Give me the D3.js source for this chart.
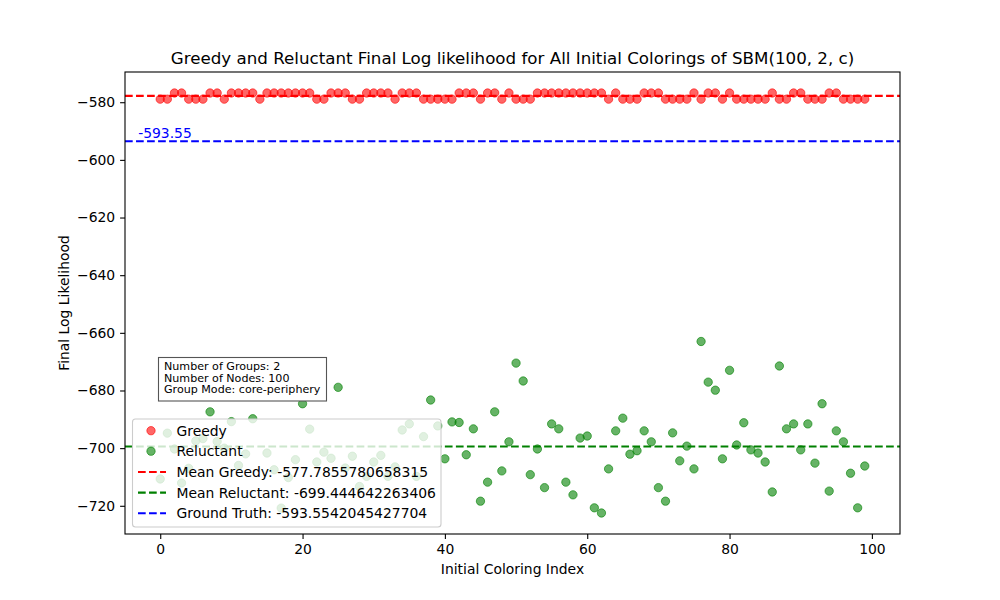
<!DOCTYPE html>
<html>
<head>
<meta charset="utf-8">
<script src="https://cdn.jsdelivr.net/npm/d3@7"></script>
<style>
  html, body { margin: 0; padding: 0; background: #fff; }
  svg { display: block; font-family: "DejaVu Sans", sans-serif; }
</style>
</head>
<body>
<svg id="chart" width="1000" height="600"></svg>
<script>
// ---------- data ----------
const greedyValues = [
  -578.94,-578.94,-576.8,-576.8,-578.94,-578.94,-578.94,-576.8,-576.8,-578.94,
  -576.8,-576.8,-576.8,-576.8,-578.94,-576.8,-576.8,-576.8,-576.8,-576.8,
  -576.8,-576.8,-578.94,-578.94,-576.8,-576.8,-576.8,-578.94,-578.94,-576.8,
  -576.8,-576.8,-576.8,-578.94,-576.8,-576.8,-576.8,-578.94,-578.94,-578.94,
  -578.94,-578.94,-576.8,-576.8,-576.8,-578.94,-576.8,-576.8,-578.94,-576.8,
  -578.94,-578.94,-578.94,-576.8,-576.8,-576.8,-576.8,-576.8,-576.8,-576.8,
  -576.8,-576.8,-576.8,-578.94,-576.8,-578.94,-578.94,-578.94,-576.8,-576.8,
  -576.8,-578.94,-578.94,-578.94,-578.94,-576.8,-578.94,-576.8,-576.8,-578.94,
  -576.8,-578.94,-578.94,-578.94,-578.94,-578.94,-576.8,-578.94,-578.94,-576.8,
  -576.8,-578.94,-578.94,-578.94,-576.8,-576.8,-578.94,-578.94,-578.94,-578.94
];
const reluctantValues = [
  -710.7,-694.8,-700.3,-712.1,-707.0,-697.5,-696.7,-687.4,-697.7,-700.0,
  -690.8,-706.0,-702.0,-689.8,-681.3,-701.7,-707.5,-720.8,-710.2,-704.0,
  -684.6,-693.4,-704.8,-701.4,-703.5,-678.9,-706.9,-702.8,-713.3,-709.8,
  -704.8,-702.5,-709.8,-706.5,-693.7,-691.6,-709.8,-696.0,-683.3,-692.3,
  -703.7,-690.9,-691.1,-702.3,-693.3,-718.4,-711.8,-687.4,-707.9,-697.8,
  -670.5,-676.7,-709.2,-700.3,-713.7,-691.6,-693.3,-711.8,-716.2,-696.5,
  -695.8,-720.7,-722.5,-707.2,-694.0,-689.6,-702.1,-700.9,-694.0,-697.8,
  -713.7,-718.4,-694.7,-704.4,-699.3,-707.2,-663.0,-677.1,-679.9,-703.7,
  -673.0,-698.9,-691.2,-700.6,-701.7,-704.8,-715.2,-671.5,-693.3,-691.6,
  -700.6,-691.6,-705.2,-684.6,-714.9,-694.0,-697.8,-708.7,-720.7,-706.2
];
const meanGreedy = -577.7855780658315;
const meanReluctant = -699.444642263406;
const groundTruth = -593.5542045427704;
const groundTruthLabel = "-593.55";
const xTicks = [0, 20, 40, 60, 80, 100];
const yTicks = [-720, -700, -680, -660, -640, -620, -600, -580];
const titleText = "Greedy and Reluctant Final Log likelihood for All Initial Colorings of SBM(100, 2, c)";
const xLabel = "Initial Coloring Index";
const yLabel = "Final Log Likelihood";
const infoLines = ["Number of Groups: 2", "Number of Nodes: 100", "Group Mode: core-periphery"];
const legendLabels = ["Greedy", "Reluctant",
  "Mean Greedy: -577.7855780658315",
  "Mean Reluctant: -699.444642263406",
  "Ground Truth: -593.5542045427704"];

// ---------- layout ----------
const svg = d3.select("#chart");
const L = 125, R = 900, T = 72, B = 534;
const n = greedyValues.length;
const xMinD = 0, xMaxD = n - 1;
const xPad = (xMaxD - xMinD) * 0.05;
const allVals = greedyValues.concat(reluctantValues);
const yMinD = d3.min(allVals), yMaxD = d3.max(allVals);
const yPad = (yMaxD - yMinD) * 0.05;

const x = d3.scaleLinear().domain([xMinD - xPad, xMaxD + xPad]).range([L, R]);
const y = d3.scaleLinear().domain([yMinD - yPad, yMaxD + yPad]).range([B, T]);

const RED = "#ff0000", GREEN = "#008000", BLUE = "#0000ff";

// points
const r = 4.17;
svg.append("g").selectAll("circle.g").data(greedyValues).join("circle")
  .attr("cx", (d, i) => x(i)).attr("cy", d => y(d)).attr("r", r)
  .attr("fill", RED).attr("fill-opacity", 0.6)
  .attr("stroke", RED).attr("stroke-opacity", 0.6).attr("stroke-width", 1);
svg.append("g").selectAll("circle.r").data(reluctantValues).join("circle")
  .attr("cx", (d, i) => x(i)).attr("cy", d => y(d)).attr("r", r)
  .attr("fill", GREEN).attr("fill-opacity", 0.6)
  .attr("stroke", GREEN).attr("stroke-opacity", 0.6).attr("stroke-width", 1);

// horizontal dashed lines
const hlines = [[meanGreedy, RED], [meanReluctant, GREEN], [groundTruth, BLUE]];
svg.append("g").selectAll("line").data(hlines).join("line")
  .attr("x1", L).attr("x2", R)
  .attr("y1", d => y(d[0])).attr("y2", d => y(d[0]))
  .attr("stroke", d => d[1]).attr("stroke-width", 2.08)
  .attr("stroke-dasharray", "7.7,3.33");

// ground truth label
svg.append("text").attr("x", x(-3.1)).attr("y", y(groundTruth) - 3)
  .attr("fill", BLUE).attr("font-size", 13.9).text(groundTruthLabel);

// axes
const xAxis = d3.axisBottom(x).tickValues(xTicks).tickSize(4.9).tickPadding(4.9).tickFormat(d3.format("d"));
const yAxis = d3.axisLeft(y).tickValues(yTicks).tickSize(4.9).tickPadding(4.9)
  .tickFormat(d => d < 0 ? "\u2212" + Math.abs(d) : d);
const gx = svg.append("g").attr("transform", `translate(0,${B})`).call(xAxis);
const gy = svg.append("g").attr("transform", `translate(${L},0)`).call(yAxis);
[gx, gy].forEach(g => {
  g.select(".domain").remove();
  g.selectAll("line").attr("stroke", "#000").attr("stroke-width", 1.1);
  g.selectAll("text").attr("fill", "#000").attr("font-size", 13.9)
    .attr("font-family", "DejaVu Sans, sans-serif");
});

// frame
svg.append("rect").attr("x", L).attr("y", T).attr("width", R - L).attr("height", B - T)
  .attr("fill", "none").attr("stroke", "#000").attr("stroke-width", 1.1);

// title & labels
svg.append("text").attr("x", (L + R) / 2).attr("y", T - 8).attr("text-anchor", "middle")
  .attr("font-size", 16.7).attr("fill", "#000").text(titleText);
svg.append("text").attr("x", (L + R) / 2).attr("y", 574).attr("text-anchor", "middle")
  .attr("font-size", 13.9).attr("fill", "#000").text(xLabel);
svg.append("text").attr("transform", `translate(69,${(T + B) / 2}) rotate(-90)`)
  .attr("text-anchor", "middle").attr("font-size", 13.9).attr("fill", "#000").text(yLabel);

// info box
const ib = svg.append("g");
ib.append("rect").attr("x", 158.5).attr("y", 357.5).attr("width", 168).attr("height", 43.5)
  .attr("fill", "#fff").attr("stroke", "#555").attr("stroke-width", 1.1);
ib.selectAll("text").data(infoLines).join("text")
  .attr("x", 164).attr("y", (d, i) => 370 + i * 11.6)
  .attr("font-size", 11.1).attr("fill", "#000").text(d => d);

// legend
const lg = svg.append("g");
lg.append("rect").attr("x", 132.5).attr("y", 419).attr("width", 308.5).attr("height", 108)
  .attr("rx", 3).attr("fill", "#fff").attr("fill-opacity", 0.8)
  .attr("stroke", "#cccccc").attr("stroke-width", 1.1);
const rowsY = [430.7, 451.2, 472, 492.6, 513.2];
const legendItems = [
  { type: "dot", color: RED }, { type: "dot", color: GREEN },
  { type: "line", color: RED }, { type: "line", color: GREEN }, { type: "line", color: BLUE }
];
legendItems.forEach((it, i) => {
  if (it.type === "dot") {
    lg.append("circle").attr("cx", 151).attr("cy", rowsY[i]).attr("r", r)
      .attr("fill", it.color).attr("fill-opacity", 0.6)
      .attr("stroke", it.color).attr("stroke-opacity", 0.6);
  } else {
    lg.append("line").attr("x1", 138).attr("x2", 166).attr("y1", rowsY[i]).attr("y2", rowsY[i])
      .attr("stroke", it.color).attr("stroke-width", 2.08).attr("stroke-dasharray", "7.7,3.33");
  }
  lg.append("text").attr("x", 176.5).attr("y", rowsY[i] + 5)
    .attr("font-size", 13.9).attr("fill", "#000").text(legendLabels[i]);
});
</script>
</body>
</html>
